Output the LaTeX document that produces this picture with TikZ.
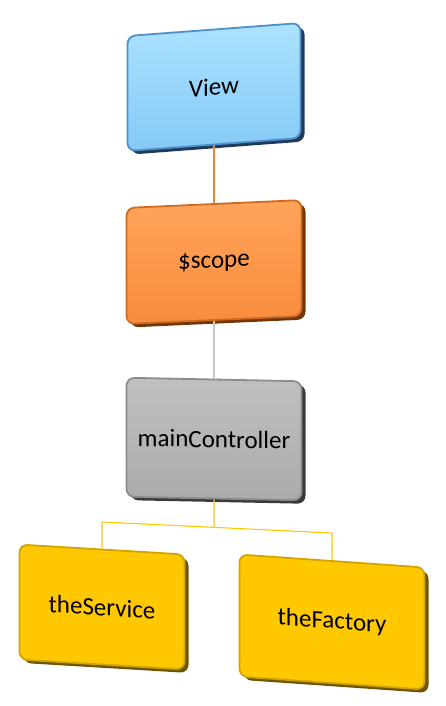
\documentclass[tikz,border=0pt]{standalone}
\usepackage{fontspec}
\setmainfont{Carlito}
\usetikzlibrary{shadows}
\definecolor{viewtop}{HTML}{ABE2FF}
\definecolor{viewbot}{HTML}{84CAF6}
\definecolor{viewedge}{HTML}{4F8FCB}
\definecolor{viewdark}{HTML}{1F3A5A}
\definecolor{scopetop}{HTML}{FFA45A}
\definecolor{scopebot}{HTML}{F98C3E}
\definecolor{scopeedge}{HTML}{CF6A22}
\definecolor{scopedark}{HTML}{733608}
\definecolor{scopewire}{HTML}{F58220}
\definecolor{ctrltop}{HTML}{C0C0C0}
\definecolor{ctrlbot}{HTML}{ABABAB}
\definecolor{ctrledge}{HTML}{8C8C8C}
\definecolor{ctrldark}{HTML}{3A3A3A}
\definecolor{partfill}{HTML}{FFC800}
\definecolor{partedge}{HTML}{D2A400}
\definecolor{partdark}{HTML}{6E5600}
\begin{document}
\begin{tikzpicture}[x=1pt,y=-1pt,
      box/.style={line width=1.8pt,rounded corners=8pt,inner sep=0pt,
        font=\fontsize{25}{28}\selectfont},
      viewbox/.style={box,draw=viewedge,top color=viewtop,bottom color=viewbot,
        drop shadow={shadow xshift=4pt,shadow yshift=-3.5pt,fill=viewdark,opacity=1}},
      scopebox/.style={box,draw=scopeedge,top color=scopetop,bottom color=scopebot,
        drop shadow={shadow xshift=4pt,shadow yshift=-3.5pt,fill=scopedark,opacity=1}},
      ctrlbox/.style={box,draw=ctrledge,top color=ctrltop,bottom color=ctrlbot,
        drop shadow={shadow xshift=4pt,shadow yshift=-3.5pt,fill=ctrldark,opacity=1}},
      partbox/.style={box,draw=partedge,fill=partfill,
        drop shadow={shadow xshift=4pt,shadow yshift=-3.5pt,fill=partdark,opacity=1}},
      wire/.style={line width=1.1pt},
      ]
        \useasboundingbox (0,0) rectangle (445,706);

        \node [viewbox,minimum width=173pt,minimum height=115pt,yslant=0.075]
          (view) at (214,87) {View};
        \node [scopebox,minimum width=175pt,minimum height=116pt,yslant=0.045]
          (scope) at (214,262) {\$scope};
        \node [ctrlbox,minimum width=175pt,minimum height=119pt,yslant=-0.02]
          (ctrl) at (214,439) {mainController};
        \node [partbox,minimum width=165pt,minimum height=115pt,yslant=-0.06]
          (service) at (102,607) {theService};
        \node [partbox,minimum width=185pt,minimum height=122pt,yslant=-0.07]
          (factory) at (332,622) {theFactory};

        \coordinate (fork) at (214,527);
        \coordinate (forkL) at (102,522);
        \coordinate (forkR) at (332,533);

        \draw [wire,scopewire] (view) -- (scope);
        \draw [wire,black!22] (scope) -- (ctrl);
        \draw [wire,partfill] (ctrl) -- (fork) (forkL) -- (forkR)
          (forkL) -- (service) (forkR) -- (factory);
      \end{tikzpicture}
\end{document}
